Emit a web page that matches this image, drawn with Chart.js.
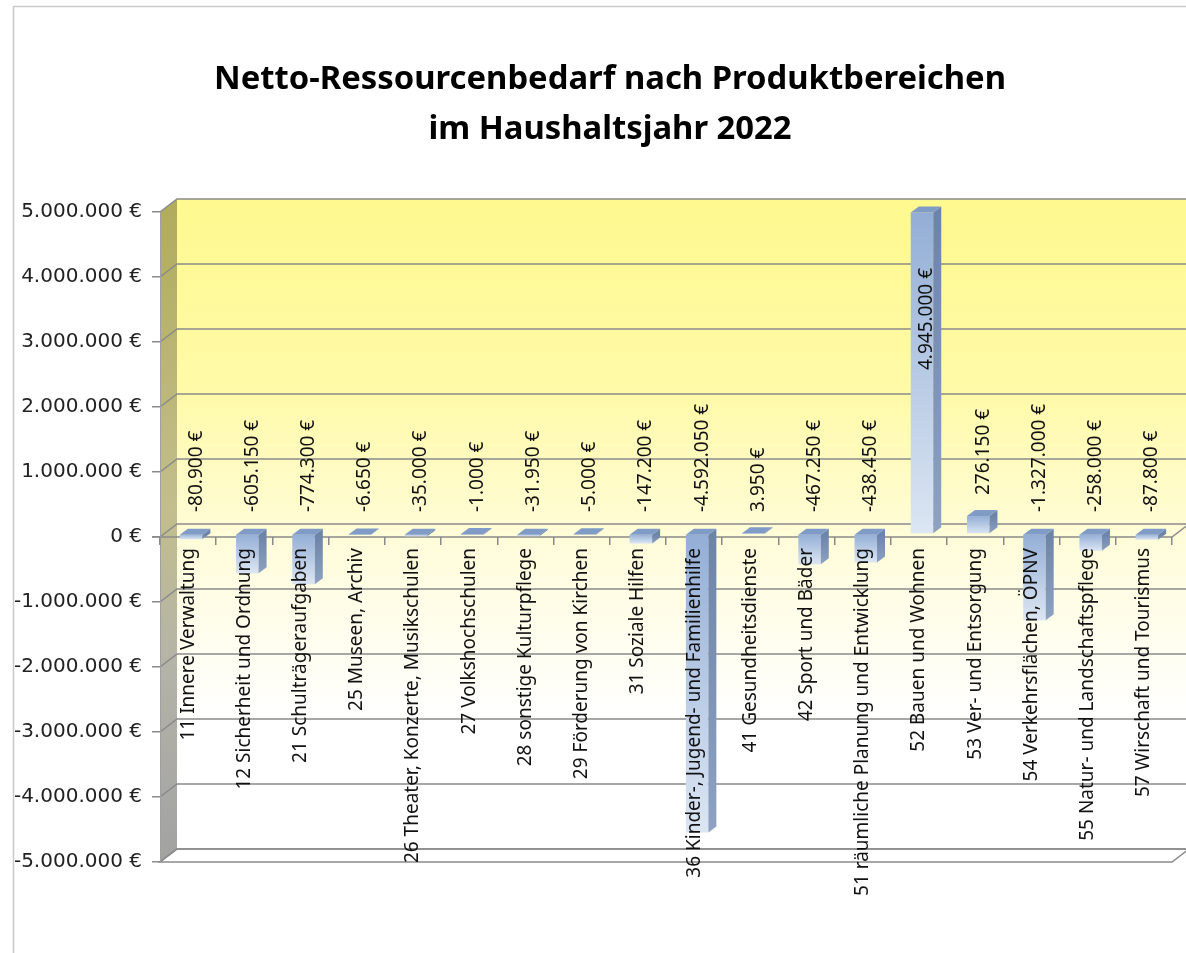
<!DOCTYPE html>
<html lang="de">
<head>
<meta charset="utf-8">
<title>Netto-Ressourcenbedarf 2022</title>
<script src="https://cdn.jsdelivr.net/npm/chart.js@4.4.1/dist/chart.umd.min.js"></script>
<style>
  html, body { margin: 0; padding: 0; overflow: hidden; background: #fff; }
  #wrap { width: 1206px; height: 953px; }
</style>
</head>
<body>
<div id="wrap"><canvas id="chart"></canvas></div>
<script>
const categories = [
  '11 Innere Verwaltung',
  '12 Sicherheit und Ordnung',
  '21 Schulträgeraufgaben',
  '25 Museen, Archiv',
  '26 Theater, Konzerte, Musikschulen',
  '27 Volkshochschulen',
  '28 sonstige Kulturpflege',
  '29 Förderung von Kirchen',
  '31 Soziale Hilfen',
  '36 Kinder-, Jugend- und Familienhilfe',
  '41 Gesundheitsdienste',
  '42 Sport und Bäder',
  '51 räumliche Planung und Entwicklung',
  '52 Bauen und Wohnen',
  '53 Ver- und Entsorgung',
  '54 Verkehrsflächen, ÖPNV',
  '55 Natur- und Landschaftspflege',
  '57 Wirschaft und Tourismus'
];
const netValues = [
  -80900, -605150, -774300, -6650, -35000, -1000, -31950, -5000, -147200,
  -4592050, 3950, -467250, -438450, 4945000, 276150, -1327000, -258000, -87800
];
const yMin = -5000000;
const yMax = 5000000;
const yStep = 1000000;
const titleLines = ['Netto-Ressourcenbedarf nach Produktbereichen', 'im Haushaltsjahr 2022'];

// fake 3d depth
const WALL_DX = 17, WALL_DY = 13;
const BAR_SHIFT_X = 3, BAR_SHIFT_Y = -3;
const BAR_DX = 8, BAR_DY = 6;

function fmtEuro(v) {
  const s = Math.abs(v).toString().replace(/\B(?=(\d{3})+(?!\d))/g, '.');
  return (v < 0 ? '-' : '') + s + ' €';
}

const walls = {
  id: 'walls',
  beforeDraw(chart) {
    const { ctx, chartArea: a, scales: { y } } = chart;
    ctx.save();
    ctx.fillStyle = '#fff';
    ctx.fillRect(0, 0, chart.width, chart.height);

    // chart frame
    ctx.strokeStyle = '#cacaca';
    ctx.lineWidth = 1.5;
    ctx.beginPath();
    ctx.moveTo(13.5, chart.height);
    ctx.lineTo(13.5, 6.5);
    ctx.lineTo(chart.width, 6.5);
    ctx.stroke();

    const bl = a.left + WALL_DX, bt = a.top - WALL_DY;
    const br = a.right + WALL_DX, bb = a.bottom - WALL_DY;

    // back wall
    const g = ctx.createLinearGradient(0, bt, 0, bb);
    g.addColorStop(0, '#fff98f');
    g.addColorStop(0.3, '#fffaa8');
    g.addColorStop(0.52, '#fffcd9');
    g.addColorStop(0.8, '#ffffff');
    g.addColorStop(1, '#ffffff');
    ctx.fillStyle = g;
    ctx.fillRect(bl, bt, br - bl, bb - bt);

    // side wall
    const lg = ctx.createLinearGradient(0, a.top, 0, a.bottom);
    lg.addColorStop(0, '#b1ac5e');
    lg.addColorStop(0.45, '#c2be8c');
    lg.addColorStop(0.7, '#b4b3a8');
    lg.addColorStop(1, '#a2a2a2');
    ctx.fillStyle = lg;
    ctx.beginPath();
    ctx.moveTo(a.left, a.top);
    ctx.lineTo(bl, bt);
    ctx.lineTo(bl, bb);
    ctx.lineTo(a.left, a.bottom);
    ctx.closePath();
    ctx.fill();

    // floor
    ctx.fillStyle = '#fff';
    ctx.strokeStyle = '#8a8a8a';
    ctx.beginPath();
    ctx.moveTo(a.left, a.bottom);
    ctx.lineTo(bl, bb);
    ctx.lineTo(br, bb);
    ctx.lineTo(a.right, a.bottom);
    ctx.closePath();
    ctx.fill();
    ctx.stroke();

    // gridlines on the walls
    ctx.lineWidth = 1.5;
    y.ticks.forEach(t => {
      const py = y.getPixelForValue(t.value);
      ctx.beginPath();
      ctx.moveTo(a.left, py);
      ctx.lineTo(bl, py - WALL_DY);
      ctx.lineTo(br, py - WALL_DY);
      ctx.stroke();
    });

    // front zero line
    const z = y.getPixelForValue(0);
    ctx.beginPath();
    ctx.moveTo(a.left - 8, z);
    ctx.lineTo(a.right, z);
    ctx.lineTo(br, z - WALL_DY);
    ctx.stroke();
    ctx.restore();
  }
};

const bars3d = {
  id: 'bars3d',
  beforeDatasetsDraw(chart) {
    chart.ctx.save();
    chart.ctx.translate(BAR_SHIFT_X, BAR_SHIFT_Y);
  },
  afterDatasetsDraw(chart) {
    const { ctx, chartArea: a, scales: { y: ys } } = chart;
    const meta = chart.getDatasetMeta(0);
    meta.data.forEach(bar => {
      const { x, y, base, width } = bar.getProps(['x', 'y', 'base', 'width'], true);
      const l = x - width / 2, r = x + width / 2;
      const t = Math.min(y, base), b = Math.max(y, base);
      const sg = ctx.createLinearGradient(0, t, 0, b + 1);
      sg.addColorStop(0, '#6d84a9');
      sg.addColorStop(1, '#8ea3c2');
      ctx.fillStyle = sg;
      ctx.beginPath();
      ctx.moveTo(r, t);
      ctx.lineTo(r + BAR_DX, t - BAR_DY);
      ctx.lineTo(r + BAR_DX, b - BAR_DY);
      ctx.lineTo(r, b);
      ctx.closePath();
      ctx.fill();
      ctx.fillStyle = '#7f9bc6';
      ctx.beginPath();
      ctx.moveTo(l, t);
      ctx.lineTo(l + BAR_DX, t - BAR_DY);
      ctx.lineTo(r + BAR_DX, t - BAR_DY);
      ctx.lineTo(r, t);
      ctx.closePath();
      ctx.fill();
    });
    ctx.restore();

    // value labels
    ctx.save();
    ctx.font = '19px "Noto Sans"';
    ctx.fillStyle = '#111';
    ctx.textAlign = 'left';
    ctx.textBaseline = 'middle';
    const zero = ys.getPixelForValue(0);
    meta.data.forEach((bar, i) => {
      const { x, y, base } = bar.getProps(['x', 'y', 'base'], true);
      const text = fmtEuro(netValues[i]);
      const w = ctx.measureText(text).width;
      const barTop = Math.min(y, base) + BAR_SHIFT_Y - BAR_DY;
      let bottom = Math.min(zero - 25, barTop - 15);
      if (bottom - w < a.top + 56) bottom = a.top + 56 + w;
      ctx.save();
      ctx.translate(x + BAR_SHIFT_X + 5, bottom);
      ctx.rotate(-Math.PI / 2);
      ctx.fillText(text, 0, 0);
      ctx.restore();
    });
    ctx.restore();
  }
};

new Chart(document.getElementById('chart'), {
  type: 'bar',
  data: {
    labels: categories,
    datasets: [{
      data: netValues,
      barPercentage: 0.4,
      categoryPercentage: 1,
      borderWidth: 0,
      backgroundColor: (c) => {
        const chart = c.chart;
        if (!chart.chartArea || c.type !== 'data') return '#a9bfdf';
        const ys = chart.scales.y;
        const v = c.raw;
        const top = ys.getPixelForValue(Math.max(v, 0));
        const bot = ys.getPixelForValue(Math.min(v, 0));
        if (bot - top < 2) return '#8fa9cf';
        const g = chart.ctx.createLinearGradient(0, top, 0, bot);
        g.addColorStop(0, '#93aed6');
        g.addColorStop(1, '#dce6f3');
        return g;
      }
    }]
  },
  options: {
    responsive: true,
    maintainAspectRatio: false,
    animation: false,
    layout: { padding: { left: 14, right: 0, top: 0, bottom: 91 } },
    plugins: {
      legend: { display: false },
      tooltip: { enabled: false },
      title: {
        display: true,
        text: titleLines,
        color: '#000',
        font: { family: 'Noto Sans', size: 32.8, weight: 'bold', lineHeight: '50px' },
        padding: { top: 55, bottom: 57 }
      }
    },
    scales: {
      x: {
        position: { y: 0 },
        grid: { z: 1, offset: true, drawOnChartArea: false, drawTicks: true, tickLength: 8, color: '#8a8a8a', lineWidth: 1.5 },
        border: { display: false },
        ticks: {
          z: 1,
          autoSkip: false,
          minRotation: 90,
          maxRotation: 90,
          padding: 3,
          color: '#111',
          font: { family: 'Noto Sans', size: 19 }
        }
      },
      y: {
        min: yMin,
        max: yMax,
        ticks: {
          stepSize: yStep,
          callback: v => fmtEuro(v),
          color: '#222',
          padding: 10,
          font: { family: 'DejaVu Sans', size: 20 }
        },
        grid: { drawOnChartArea: false, tickLength: 8, color: '#8a8a8a', lineWidth: 1.5 },
        border: { display: true, color: '#a0a0a0' },
        afterFit: s => { s.width = 146; }
      },
      // empty box on the right, the original chart continues past the window edge
      yRight: {
        position: 'right',
        min: yMin,
        max: yMax,
        ticks: { display: false },
        grid: { display: false },
        border: { display: false },
        afterFit: s => { s.width = 34; }
      }
    }
  },
  plugins: [walls, bars3d]
});
</script>
</body>
</html>
